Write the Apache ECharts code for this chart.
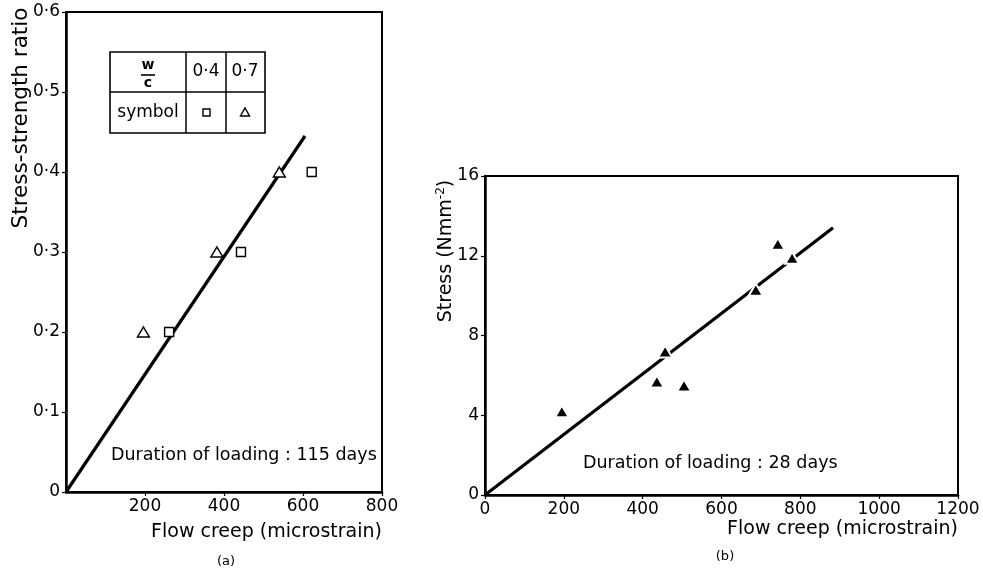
<!DOCTYPE html>
<html>
<head>
<meta charset="utf-8">
<script src="https://cdn.jsdelivr.net/npm/echarts@6/dist/echarts.min.js"></script>
<style>
  html, body { margin: 0; padding: 0; background: #fff; }
  #chart { width: 983px; height: 574px; }
</style>
</head>
<body>
<div id="chart"></div>
<script>
// (a) stress-strength ratio vs flow creep, 115 days
const aSquareX = [261, 443, 622]   // w/c 0.4
const aSquareY = [0.2, 0.3, 0.4]
const aTriX = [196, 382, 540]      // w/c 0.7
const aTriY = [0.2, 0.3, 0.4]
const aFitX = [0, 605]
const aFitY = [0, 0.445]

// (b) stress vs flow creep, 28 days
const bX = [195, 436, 457, 505, 687, 743, 779]
const bY = [4.2, 5.7, 7.2, 5.5, 10.3, 12.6, 11.9]
const bFitX = [0, 883]
const bFitY = [0, 13.4]

const FONT = '"DejaVu Sans"'
const dot = (v) => String(v).replace('.', '·')
const pairs = (xs, ys) => xs.map((x, i) => [x, ys[i]])

const chart = echarts.init(document.getElementById('chart'))

const axisBase = {
  axisLine: { show: true, lineStyle: { color: '#000', width: 2.5 } },
  axisTick: { show: true, length: 4, lineStyle: { color: '#000', width: 1.2 } },
  splitLine: { show: false },
  axisLabel: { color: '#000', fontSize: 17, fontFamily: 'DejaVu Sans', margin: 6, formatter: (v) => String(v) },
}

const txt = (x, y, text, size, extra = {}) => ({
  type: 'text', x, y, z: 100,
  rotation: extra.rotation || 0,
  style: Object.assign({ text, fill: '#000', font: `${size}px ${FONT}`, align: 'center', verticalAlign: 'middle' }, extra.style || {}),
})

const line = (x1, y1, x2, y2, w = 1.5) => ({
  type: 'line', z: 100,
  shape: { x1, y1, x2, y2 },
  style: { stroke: '#000', lineWidth: w },
})

chart.setOption({
  animation: false,
  backgroundColor: '#fff',
  grid: [
    { left: 66, top: 12, width: 316, height: 480, show: true, borderColor: '#000', borderWidth: 2 },
    { left: 485, top: 176, width: 473, height: 319, show: true, borderColor: '#000', borderWidth: 2 },
  ],
  xAxis: [
    { ...axisBase, gridIndex: 0, type: 'value', min: 0, max: 800, interval: 200,
      axisLabel: { ...axisBase.axisLabel, showMinLabel: false } },
    { ...axisBase, gridIndex: 1, type: 'value', min: 0, max: 1200, interval: 200 },
  ],
  yAxis: [
    { ...axisBase, gridIndex: 0, type: 'value', min: 0, max: 0.6, interval: 0.1,
      axisLabel: { ...axisBase.axisLabel, formatter: (v) => dot(Math.round(v * 10) / 10) } },
    { ...axisBase, gridIndex: 1, type: 'value', min: 0, max: 16, interval: 4 },
  ],
  series: [
    {
      type: 'line', xAxisIndex: 0, yAxisIndex: 0, data: pairs(aFitX, aFitY),
      symbol: 'none', lineStyle: { color: '#000', width: 3.2 }, z: 2,
    },
    {
      type: 'scatter', xAxisIndex: 0, yAxisIndex: 0, data: pairs(aSquareX, aSquareY),
      symbol: 'rect', symbolSize: 9,
      itemStyle: { color: '#fff', borderColor: '#000', borderWidth: 1.4, opacity: 1 }, z: 5,
    },
    {
      type: 'scatter', xAxisIndex: 0, yAxisIndex: 0, data: pairs(aTriX, aTriY),
      symbol: 'triangle', symbolSize: [12, 10],
      itemStyle: { color: '#fff', borderColor: '#000', borderWidth: 1.4, opacity: 1 }, z: 5,
    },
    {
      type: 'line', xAxisIndex: 1, yAxisIndex: 1, data: pairs(bFitX, bFitY),
      symbol: 'none', lineStyle: { color: '#000', width: 3.2 }, z: 2,
    },
    {
      type: 'scatter', xAxisIndex: 1, yAxisIndex: 1, data: pairs(bX, bY),
      symbol: 'triangle', symbolSize: [14, 12],
      itemStyle: { color: '#000', borderColor: '#fff', borderWidth: 2, opacity: 1 }, z: 5,
    },
  ],
  graphic: [
    // axis titles and notes
    txt(21, 118, 'Stress-strength ratio', 21.5, { rotation: Math.PI / 2 }),
    txt(382, 532, 'Flow creep (microstrain)', 19, { style: { align: 'right' } }),
    txt(226, 562, '(a)', 13),
    txt(111, 455, 'Duration of loading : 115 days', 17.5, { style: { align: 'left' } }),
    {
      type: 'text', x: 446, y: 251, rotation: Math.PI / 2, z: 100,
      style: {
        text: 'Stress (Nmm{sup|-2})', fill: '#000', font: `19px ${FONT}`,
        align: 'center', verticalAlign: 'middle',
        rich: { sup: { fontSize: 12, fontFamily: 'DejaVu Sans', padding: [0, 0, 10, 0] } },
      },
    },
    txt(958, 529, 'Flow creep (microstrain)', 19, { style: { align: 'right' } }),
    txt(725, 557, '(b)', 13),
    txt(583, 463, 'Duration of loading : 28 days', 17.5, { style: { align: 'left' } }),
    // legend table
    {
      type: 'rect', z: 100, shape: { x: 110, y: 52, width: 155, height: 81 },
      style: { fill: '#fff', stroke: '#000', lineWidth: 1.6 },
    },
    line(186, 52, 186, 133),
    line(226, 52, 226, 133),
    line(110, 92, 265, 92),
    txt(148, 65, 'w', 14, { style: { font: `bold 14px ${FONT}` } }),
    line(141, 75, 155, 75, 1.6),
    txt(148, 83, 'c', 14, { style: { font: `bold 14px ${FONT}` } }),
    txt(206, 72, '0·4', 17),
    txt(245, 72, '0·7', 17),
    txt(148, 113, 'symbol', 17),
    {
      type: 'rect', z: 100, shape: { x: 203, y: 109, width: 7, height: 7 },
      style: { fill: '#fff', stroke: '#000', lineWidth: 1.4 },
    },
    {
      type: 'polygon', z: 100, shape: { points: [[245, 108], [249.5, 116], [240.5, 116]] },
      style: { fill: '#fff', stroke: '#000', lineWidth: 1.4 },
    },
  ],
})
</script>
</body>
</html>
